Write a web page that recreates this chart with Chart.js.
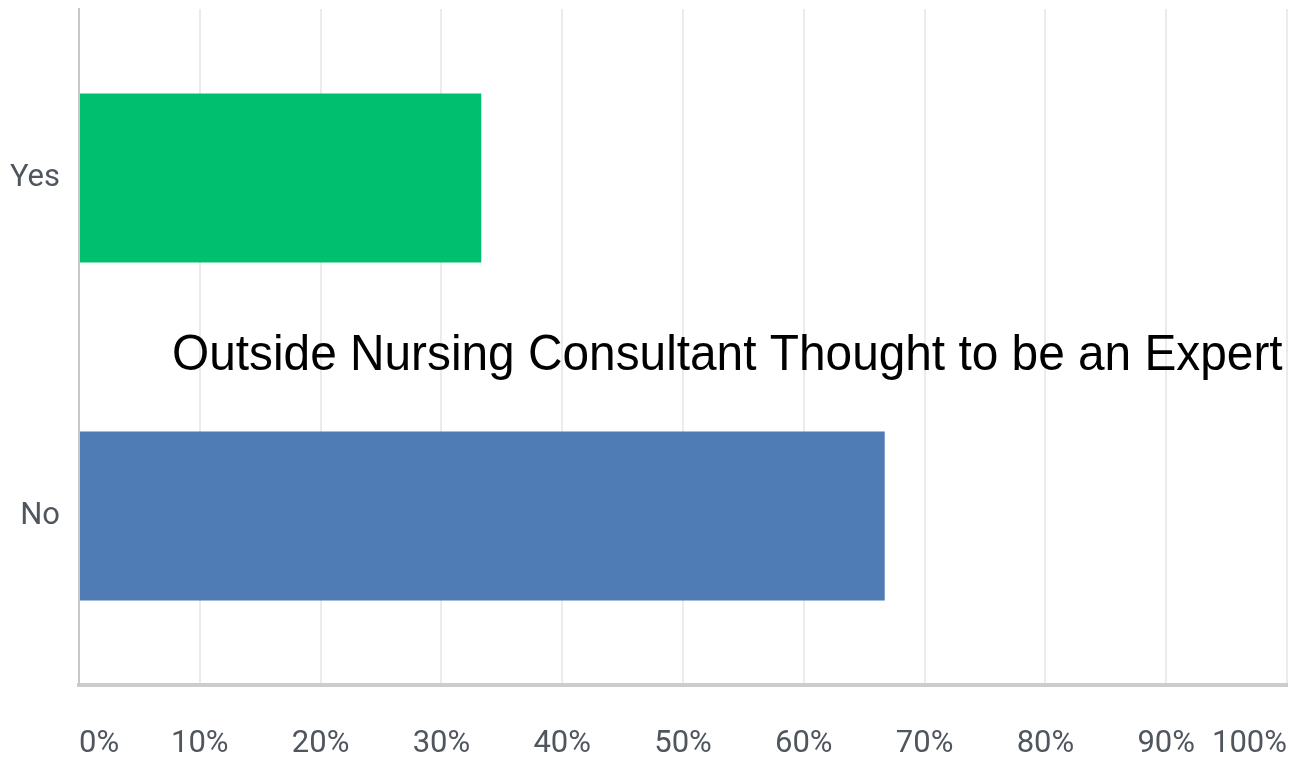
<!DOCTYPE html>
<html>
<head>
<meta charset="utf-8">
<script src="https://cdn.jsdelivr.net/npm/chart.js@4/dist/chart.umd.min.js"></script>
<style>
    html, body { margin: 0; padding: 0; background: #ffffff; }
    #wrap { width: 1291px; height: 762px; position: relative; }
</style>
</head>
<body>
<div id="wrap"><canvas id="survey-chart"></canvas></div>
<script>
    // Chart data
    var categories = ['Yes', 'No'];
    var percentValues = [33.3, 66.7];
    var barColors = ['#00bf6f', '#4f7cb5'];
    var tickValues = [0, 10, 20, 30, 40, 50, 60, 70, 80, 90, 100];
    var overlayTitle = 'Outside Nursing Consultant Thought to be an Expert';

    // Title sits inside the plot area, over the gridlines
    var overlayTitlePlugin = {
        id: 'overlayTitle',
        afterDraw: function(chart) {
            var ctx = chart.ctx;
            var targetWidth = 1111;
            var capHeight = 36;
            ctx.save();
            ctx.font = '48px "Liberation Sans", Arial, sans-serif';
            var size = 48 * targetWidth / ctx.measureText(overlayTitle).width;
            ctx.font = size + 'px "Liberation Sans", Arial, sans-serif';
            ctx.fillStyle = '#000000';
            ctx.textAlign = 'left';
            ctx.textBaseline = 'alphabetic';
            ctx.translate(172, 370);
            ctx.scale(1, capHeight / (0.716 * size));
            ctx.fillText(overlayTitle, 0, 0);
            ctx.restore();
        }
    };

    // No extra room for the outer tick labels
    function noPadding(scale) {
        scale.paddingTop = 0;
        scale.paddingBottom = 0;
        scale.paddingLeft = 0;
        scale.paddingRight = 0;
    }

    var ctx = document.getElementById('survey-chart').getContext('2d');

    new Chart(ctx, {
        type: 'bar',
        data: {
            labels: categories,
            datasets: [{
                data: percentValues,
                backgroundColor: barColors,
                borderWidth: 0,
                barPercentage: 0.5,
                categoryPercentage: 1
            }]
        },
        options: {
            indexAxis: 'y',
            responsive: true,
            maintainAspectRatio: false,
            animation: false,
            layout: {
                padding: { top: 9, right: 4, left: 0, bottom: 0 }
            },
            plugins: {
                legend: { display: false },
                tooltip: { enabled: false }
            },
            scales: {
                x: {
                    min: 0,
                    max: 100,
                    afterBuildTicks: function(scale) {
                        scale.ticks = tickValues.map(function(v) { return { value: v }; });
                    },
                    afterFit: function(scale) {
                        scale.height = 77;
                        noPadding(scale);
                    },
                    grid: {
                        color: '#ebebeb',
                        lineWidth: 2,
                        drawTicks: false
                    },
                    border: {
                        color: '#cccccc',
                        width: 4
                    },
                    ticks: {
                        align: 'inner',
                        padding: 41,
                        color: '#50565e',
                        font: { family: 'Roboto', size: 31 },
                        callback: function(value) { return value + '%'; }
                    }
                },
                y: {
                    afterFit: function(scale) {
                        scale.width = 79;
                        noPadding(scale);
                    },
                    grid: { display: false },
                    border: {
                        color: '#c8c8c8',
                        width: 2
                    },
                    ticks: {
                        padding: 11,
                        color: '#50565e',
                        font: { family: 'Roboto', size: 31 }
                    }
                }
            }
        },
        plugins: [overlayTitlePlugin]
    });
</script>
</body>
</html>
